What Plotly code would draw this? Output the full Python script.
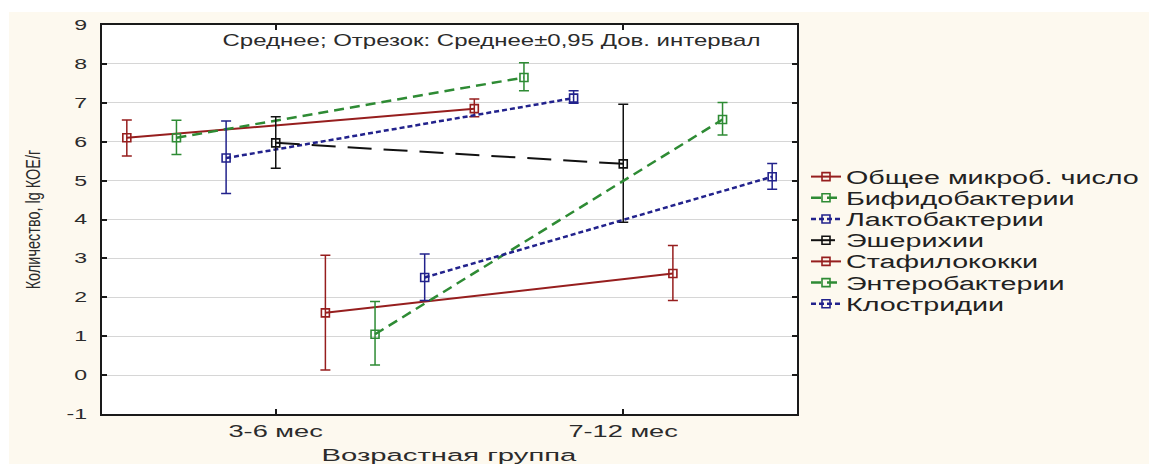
import plotly.graph_objects as go

# Age groups on the x axis
groups = ["3-6 мес", "7-12 мес"]

# Microflora groups (legend order)
names = [
    "Общее микроб. число",
    "Бифидобактерии",
    "Лактобактерии",
    "Эшерихии",
    "Стафилококки",
    "Энтеробактерии",
    "Клостридии",
]

# Means and 95% confidence limits, lg КОЕ/г, per age group
obm_mean = [6.10, 6.85]
obm_low = [5.63, 6.64]
obm_high = [6.56, 7.10]

bif_mean = [6.10, 7.65]
bif_low = [5.67, 7.31]
bif_high = [6.55, 8.03]

lac_mean = [5.58, 7.12]
lac_low = [4.67, 6.99]
lac_high = [6.53, 7.31]

esh_mean = [5.97, 5.43]
esh_low = [5.32, 3.93]
esh_high = [6.64, 6.96]

sta_mean = [1.60, 2.61]
sta_low = [0.13, 1.92]
sta_high = [3.08, 3.33]

ent_mean = [1.05, 6.57]
ent_low = [0.26, 6.17]
ent_high = [1.89, 7.01]

clo_mean = [2.51, 5.10]
clo_low = [1.92, 4.78]
clo_high = [3.11, 5.44]

# y axis ticks
y_ticks = list(range(-1, 10))
y_ticktext = [str(v) for v in y_ticks]

means = [obm_mean, bif_mean, lac_mean, esh_mean, sta_mean, ent_mean, clo_mean]
lows = [obm_low, bif_low, lac_low, esh_low, sta_low, ent_low, clo_low]
highs = [obm_high, bif_high, lac_high, esh_high, sta_high, ent_high, clo_high]

RED = "#961e1e"
GREEN = "#2e8b34"
BLUE = "#22228c"
BLACK = "#111111"
colors = [RED, GREEN, BLUE, BLACK, RED, GREEN, BLUE]
dashes = ["solid", "10px,6px", "5px,3px", "24px,12px", "solid", "10px,6px", "5px,3px"]
widths = [2, 2.5, 2.5, 2, 2, 2.5, 2.5]

FONT = "Liberation Sans, Arial, sans-serif"
TEXT = "#2b2b2b"

fig = go.Figure()
n = len(names)
for i, name in enumerate(names):
    off = (i - (n - 1) / 2) / n  # side-by-side shift within each age group
    xs = [g + off for g in range(len(groups))]
    m, lo, hi = means[i], lows[i], highs[i]
    fig.add_trace(go.Scatter(
        x=xs, y=m, name=name, mode="lines+markers",
        line=dict(color=colors[i], width=widths[i], dash=dashes[i]),
        marker=dict(symbol="square-open", size=8, color=colors[i],
                    line=dict(width=1.6, color=colors[i])),
        error_y=dict(type="data", symmetric=False,
                     array=[h - v for h, v in zip(hi, m)],
                     arrayminus=[v - l for v, l in zip(m, lo)],
                     color=colors[i], thickness=1.5, width=5),
    ))

L, R, T, B = 102, 352, 25, 50
W, H = 1149, 464
pw, ph = W - L - R, H - T - B

def px(xp):
    return (xp - L) / pw

def py(yp):
    return (H - B - yp) / ph

fig.update_layout(
    width=W, height=H, autosize=False,
    margin=dict(l=L, r=R, t=T, b=B, pad=0),
    paper_bgcolor="#fdf9ef",
    plot_bgcolor="#ffffff",
    font=dict(family=FONT, color=TEXT),
    xaxis=dict(
        range=[-0.5, 1.5], tickvals=list(range(len(groups))), ticktext=groups,
        showgrid=False, zeroline=False,
        showline=True, linecolor="#1a1a1a", linewidth=2, mirror="ticks",
        ticks="inside", ticklen=5, tickwidth=1.5, tickcolor="#1a1a1a",
        tickfont=dict(size=17, color=TEXT), ticklabelstandoff=1,
    ),
    yaxis=dict(
        range=[-1, 9], tickvals=y_ticks, ticktext=y_ticktext,
        showgrid=True, gridcolor="#d6d6d6", gridwidth=1, zeroline=False,
        showline=True, linecolor="#1a1a1a", linewidth=2, mirror="ticks",
        ticks="inside", ticklen=5, tickwidth=1.5, tickcolor="#1a1a1a",
        tickfont=dict(size=14, color=TEXT), ticklabelstandoff=10,
        title=dict(text="Количество, lg КОЕ/г", font=dict(size=14.5, color=TEXT), standoff=33),
    ),
    legend=dict(
        x=px(806), y=py(161), xanchor="left", yanchor="top",
        font=dict(size=14, color="#222222"), bgcolor="rgba(0,0,0,0)",
        itemwidth=30, tracegroupgap=0, itemclick=False,
    ),
    showlegend=True,
    shapes=[
        dict(type="rect", xref="paper", yref="paper", layer="below",
             x0=px(-20), x1=px(W + 20), y0=py(12), y1=py(-20),
             fillcolor="#ffffff", line=dict(width=0)),
        dict(type="rect", xref="paper", yref="paper", layer="below",
             x0=px(-20), x1=px(9), y0=py(H + 20), y1=py(-20),
             fillcolor="#ffffff", line=dict(width=0)),
    ],
    annotations=[
        dict(text="Среднее; Отрезок: Среднее±0,95 Дов. интервал",
             x=px(492), y=py(40), xref="paper", yref="paper",
             xanchor="center", yanchor="middle", showarrow=False,
             font=dict(size=16, color=TEXT)),
        dict(text="Возрастная группа",
             x=0.5, y=py(455), xref="paper", yref="paper",
             xanchor="center", yanchor="middle", showarrow=False,
             font=dict(size=17, color=TEXT)),
    ],
)

# The labels are set in a horizontally widened face; emulate it by scaling the glyphs
post = """
function stretchEl(t, sx, sy) {
  var b = t.getBBox();
  var tr = t.getAttribute('transform') || '';
  var a = t.getAttribute('text-anchor') || 'start';
  var ax = a === 'middle' ? b.x + b.width / 2 : (a === 'end' ? b.x + b.width : b.x);
  var cy = b.y + b.height / 2;
  t.setAttribute('transform', tr + ' translate(' + ax + ',' + cy + ') scale(' + sx + ',' + sy +
    ') translate(' + (-ax) + ',' + (-cy) + ')');
}
function stretch(sel, sx, sy) {
  document.querySelectorAll(sel).forEach(function (t) { stretchEl(t, sx, sy); });
}
document.querySelectorAll('.legend, .legend [clip-path]').forEach(function (e) {
  e.removeAttribute('clip-path');
});
stretch('.xtick text', 1.6, 1.0);
stretch('.ytick text', 1.65, 1.0);
var ann = document.querySelectorAll('text.annotation-text');
if (ann.length > 1) { stretchEl(ann[0], 1.5, 1.0); stretchEl(ann[1], 1.72, 1.0); }
stretch('text.legendtext', 2.05, 1.3);
stretch('text.ytitle', 1.0, 1.4);
"""

fig.write_html("out.html", config={"displayModeBar": False, "responsive": False}, post_script=post)
